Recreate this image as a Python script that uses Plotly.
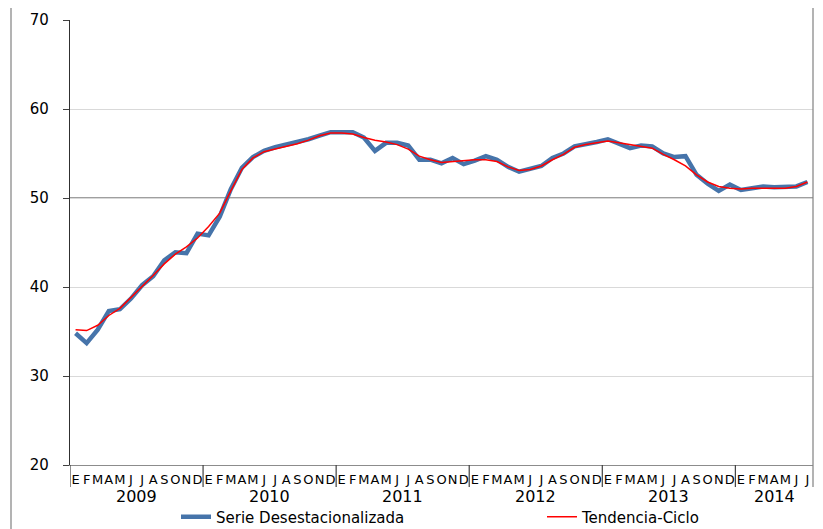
import plotly.graph_objects as go

years = ["2009", "2010", "2011", "2012", "2013", "2014"]
month_letters = ["E", "F", "M", "A", "M", "J", "J", "A", "S", "O", "N", "D"]
months_2014 = 7

serie_desest = [
    34.8, 33.7, 35.2, 37.3, 37.5, 38.7, 40.2, 41.2, 43.0, 43.9, 43.8, 46.0,
    45.8, 47.9, 51.0, 53.4, 54.6, 55.3, 55.7, 56.0, 56.2, 56.6, 57.0, 57.4,
    57.4, 57.4, 56.8, 55.3, 56.2, 56.2, 55.9, 54.3, 54.3, 53.9, 54.5, 53.8,
    54.2, 54.7, 54.3, 53.5, 52.95, 53.3, 53.6, 54.5, 55.0, 55.8, 56.0, 56.3,
    56.6, 56.1, 55.6, 55.9, 55.8, 55.0, 54.6, 54.7, 52.6, 51.6, 50.8, 51.5,
    50.9, 51.1, 51.3, 51.2, 51.2, 51.3, 51.8,
]
tendencia = [
    35.2, 35.1, 35.7, 36.8, 37.6, 38.8, 40.0, 41.3, 42.6, 43.7, 44.5, 45.5,
    46.8, 48.3, 50.8, 53.2, 54.5, 55.2, 55.5, 55.8, 56.1, 56.5, 57.0, 57.3,
    57.3, 57.2, 56.8, 56.5, 56.3, 56.0, 55.5, 54.7, 54.3, 54.0, 54.1, 54.2,
    54.3, 54.3, 54.1, 53.5, 53.1, 53.2, 53.6, 54.3, 54.9, 55.7, 56.0, 56.2,
    56.4, 56.2, 56.0, 55.8, 55.6, 54.9, 54.3, 53.6, 52.6, 51.8, 51.3, 51.1,
    51.0, 51.1, 51.1, 51.1, 51.1, 51.3, 51.8,
]
y_ticks = [20, 30, 40, 50, 60, 70]

n = len(serie_desest)
x_idx = list(range(n))
tick_text = (month_letters * 6)[:n]

FONT = "DejaVu Sans, Liberation Sans, Arial, sans-serif"
OFF = 8  # page body margin
W, H = 823 - OFF, 529 - OFF
ML, MT = 70 - OFF, 20 - OFF
PLOT_R, PLOT_B = 813 - OFF, 465 - OFF
MR, MB = W - PLOT_R, H - PLOT_B
PW, PH = W - ML - MR, H - MT - MB


def px_x(p):
    return (p - OFF - ML) / PW


def px_y(p):
    return (PLOT_B - (p - OFF)) / PH


fig = go.Figure()
fig.add_trace(go.Scatter(
    x=x_idx, y=serie_desest, mode="lines", name="Serie Desestacionalizada",
    line=dict(color="#4674AA", width=4.5), legend="legend",
))
fig.add_trace(go.Scatter(
    x=x_idx, y=tendencia, mode="lines", name="Tendencia-Ciclo",
    line=dict(color="#FF0000", width=1.5), legend="legend2",
))

shapes = []
shapes.append(dict(type="line", xref="paper", yref="y", x0=0, x1=1, y0=50, y1=50,
                   line=dict(color="#7f7f7f", width=1.5), layer="below"))
for k in range(len(years)):
    xs = k * 12 - 0.5
    shapes.append(dict(type="line", xref="x", yref="paper", x0=xs, x1=xs,
                       y0=0, y1=px_y(487), line=dict(color="#404040", width=1.2)))
shapes.append(dict(type="line", xref="paper", yref="paper", x0=px_x(11), x1=px_x(11),
                   y0=px_y(5), y1=px_y(535), line=dict(color="#808080", width=1.2)))
shapes.append(dict(type="line", xref="paper", yref="paper", x0=px_x(11), x1=1,
                   y0=px_y(5), y1=px_y(5), line=dict(color="#808080", width=1.2)))
shapes.append(dict(type="line", xref="paper", yref="paper", x0=1, x1=1,
                   y0=px_y(5), y1=px_y(487), line=dict(color="#808080", width=1.2)))

annotations = []
year_centers = [5.5, 17.5, 29.5, 41.5, 53.5, 60 + (months_2014 - 1) / 2]
for yr, xc in zip(years, year_centers):
    annotations.append(dict(x=xc, y=px_y(497), xref="x", yref="paper", text=yr,
                            showarrow=False, xanchor="center", yanchor="middle",
                            font=dict(family=FONT, size=16, color="black")))

legend_common = dict(orientation="h", xanchor="left", yanchor="middle",
                     font=dict(family=FONT, size=15, color="black"),
                     bgcolor="rgba(0,0,0,0)", borderwidth=0)

fig.update_layout(
    width=W, height=H,
    margin=dict(l=ML, r=MR, t=MT, b=MB, autoexpand=False),
    paper_bgcolor="white", plot_bgcolor="white",
    font=dict(family=FONT, color="black"),
    shapes=shapes, annotations=annotations,
    showlegend=True,
    legend=dict(x=px_x(176), y=px_y(517), **legend_common),
    legend2=dict(x=px_x(542), y=px_y(517), **legend_common),
)
fig.update_xaxes(
    range=[-0.5, n - 0.5], tickvals=x_idx, ticktext=tick_text, tickangle=0,
    tickfont=dict(family=FONT, size=13, color="black"), ticks="", showgrid=False,
    ticklabelstandoff=2,
    showline=True, linecolor="#8c8c8c", linewidth=1, zeroline=False,
)
fig.update_yaxes(
    range=[20, 70], tickvals=y_ticks, ticks="outside", ticklen=6, tickcolor="#404040",
    tickfont=dict(family=FONT, size=15, color="black"), ticklabelstandoff=11,
    showgrid=True, gridcolor="#d9d9d9", gridwidth=1,
    showline=True, linecolor="#303030", linewidth=1.3, zeroline=False,
)
fig.write_html("out.html")
